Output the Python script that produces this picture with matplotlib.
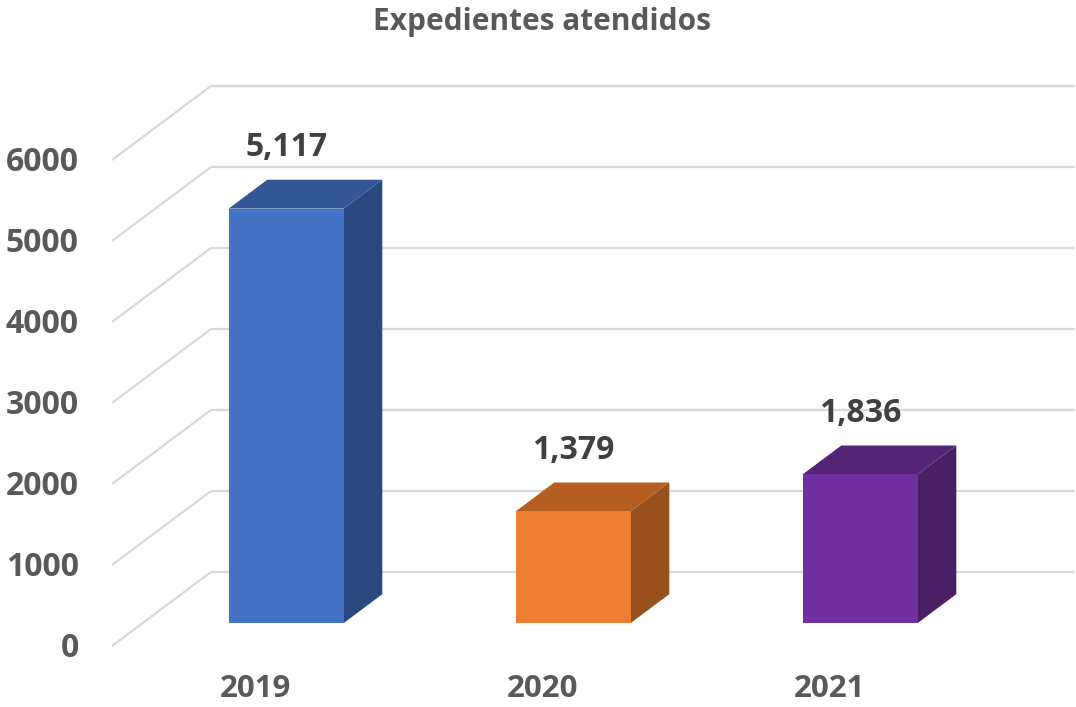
import matplotlib
matplotlib.use("Agg")
import matplotlib.pyplot as plt
from matplotlib.patches import Polygon

# ---- data ----
title = "Expedientes atendidos"
categories = ["2019", "2020", "2021"]
values = [5117, 1379, 1836]
value_labels = ["5,117", "1,379", "1,836"]
y_ticks = [0, 1000, 2000, 3000, 4000, 5000, 6000]
front_colors = ["#4472C4", "#ED7D31", "#7030A0"]
top_colors = ["#325696", "#B55E22", "#542476"]
side_colors = ["#2B4981", "#9A501D", "#4A1F66"]

# ---- geometry (pixel scale of the oblique projection) ----
W, H = 1076, 707
PX_PER_CAT = 287.0
PX_PER_VAL = 0.081
X0_PX = 255.5        # category 0 centre on front plane
Y0_PX = 646.0        # value 0 on front plane (from top)
DEPTH_PX_X, DEPTH_PX_Y = 99.0, 74.0
DX = DEPTH_PX_X / PX_PER_CAT
DY = DEPTH_PX_Y / PX_PER_VAL
BAR_W = 115.0 / PX_PER_CAT
T_FRONT, T_BACK = 0.31, 0.70
X_LEFT, X_RIGHT = -0.5, 2.51

FONT = ["Open Sans", "DejaVu Sans"]

fig = plt.figure(figsize=(W / 100, H / 100), dpi=100)
ax = fig.add_axes([0, 0, 1, 1])
ax.set_xlim((0 - X0_PX) / PX_PER_CAT, (W - X0_PX) / PX_PER_CAT)
ax.set_ylim((Y0_PX - H) / PX_PER_VAL, (Y0_PX - 0) / PX_PER_VAL)
ax.axis("off")


def P(i, v, t):
    return (i + t * DX, v + t * DY)


grid_c = "#D9D9D9"
for v in y_ticks:
    # left wall diagonal
    a = P(X_LEFT, v, 0)
    b = P(X_LEFT, v, 1)
    ax.plot([a[0], b[0]], [a[1], b[1]], color=grid_c, lw=1.6, zorder=1,
            solid_capstyle="butt")
    # back wall horizontal
    c = P(X_RIGHT, v, 1)
    ax.plot([b[0], c[0]], [b[1], c[1]], color=grid_c, lw=1.6, zorder=1,
            solid_capstyle="butt")
    ax.annotate(str(v), xy=P(X_LEFT, v, 0), xytext=(-24, -2),
                textcoords="offset points", ha="right", va="center",
                fontsize=23, fontweight="bold", color="#595959", family=FONT)

for i, (cat, v) in enumerate(zip(categories, values)):
    l, r = i - BAR_W / 2, i + BAR_W / 2
    front = [P(l, 0, T_FRONT), P(r, 0, T_FRONT), P(r, v, T_FRONT), P(l, v, T_FRONT)]
    top = [P(l, v, T_FRONT), P(r, v, T_FRONT), P(r, v, T_BACK), P(l, v, T_BACK)]
    side = [P(r, 0, T_FRONT), P(r, 0, T_BACK), P(r, v, T_BACK), P(r, v, T_FRONT)]
    ax.add_patch(Polygon(side, closed=True, fc=side_colors[i], ec="none", zorder=3))
    ax.add_patch(Polygon(top, closed=True, fc=top_colors[i], ec="none", zorder=3))
    ax.add_patch(Polygon(front, closed=True, fc=front_colors[i], ec="none", zorder=4))
    ax.annotate(value_labels[i], xy=P(i, v, T_FRONT), xytext=(0, 44),
                textcoords="offset points", ha="center", va="center",
                fontsize=23, fontweight="bold", color="#404040", family=FONT)
    ax.annotate(cat, xy=P(i, 0, 0), xytext=(0, -31),
                textcoords="offset points", ha="center", va="center",
                fontsize=22.5, fontweight="bold", color="#595959", family=FONT)

fig.text(542 / W, 1 - 22 / H, title, ha="center", va="center",
         fontsize=21.5, fontweight="bold", color="#595959", family=FONT)

fig.savefig("out.png", dpi=100)
